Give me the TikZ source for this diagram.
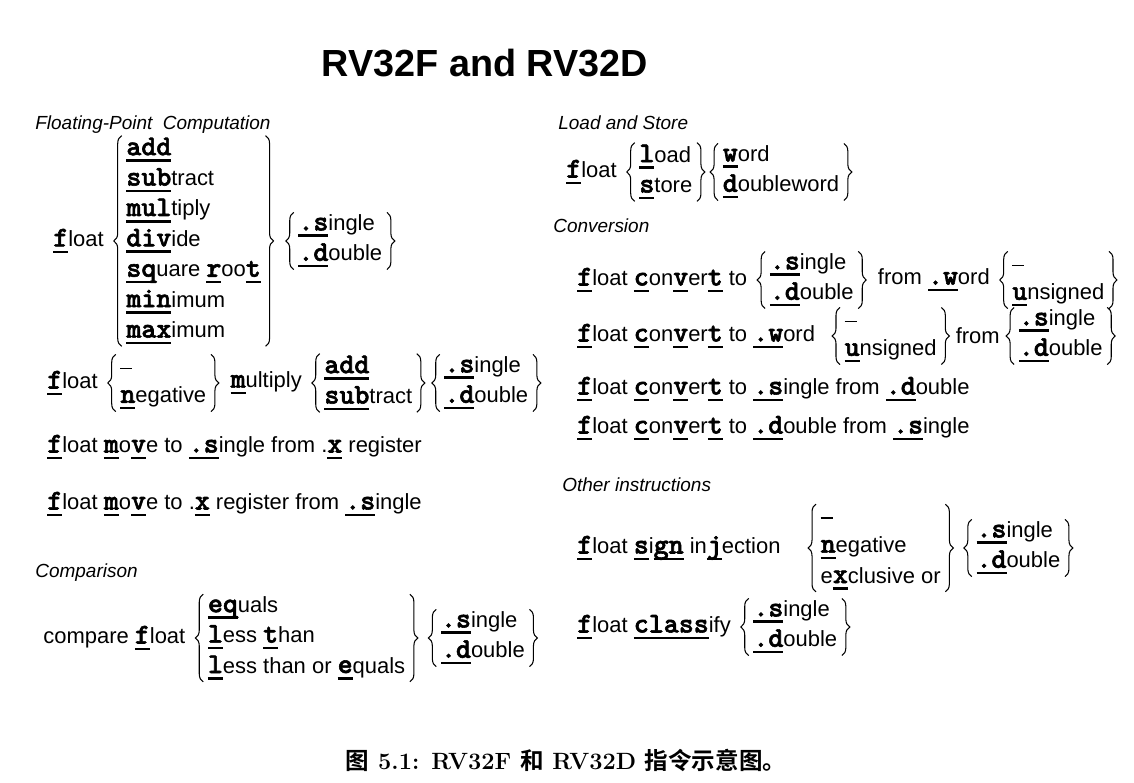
\documentclass[tikz,border=0pt]{standalone}
\usepackage{fontspec}
\setsansfont{Liberation Sans}
\newfontfamily\kwfont{lmmonolt10-bold.otf}[Scale=1.3, FakeBold=2]
\newfontfamily\cjkfont{Noto Sans CJK SC}[BoldFont={* Bold}]
\usetikzlibrary{positioning,decorations.pathreplacing}

% underlined opcode letters
\newcommand\kw[1]{{\leavevmode\setbox0\hbox{\kwfont #1}\rlap{\rule[-3.8pt]{\wd0}{1.5pt}}\box0}}
% empty choice
\newcommand\nokw{\leavevmode\vphantom{l}\rule[2pt]{6.8pt}{0.7pt}}

\begin{document}
\begin{tikzpicture}[x=0.02cm, y=-0.02cm,
  txt/.style={inner sep=0pt, font=\sffamily\fontsize{12.5pt}{17.3pt}\selectfont},
  grp/.style={txt, align=left, inner xsep=2.5pt, inner ysep=1pt},
  hdr/.style={inner sep=0pt, anchor=base west, font=\sffamily\itshape\fontsize{10.8pt}{13pt}\selectfont},
  brc/.style={decorate, decoration={brace, amplitude=4.5pt}, line width=0.6pt},
  node distance=10pt
]
\useasboundingbox (0,0) rectangle (1134,783);

\node[inner sep=0pt, font=\sffamily\bfseries\fontsize{21.5pt}{24pt}\selectfont] (title) at (485,63) {RV32F and RV32D};

% floating-point computation
\node[hdr] (hcomp) at (35,130) {Floating-Point\ \ Computation};
\node[txt, anchor=west] (fA) at (53,241) {\kw{f}loat};
\node[grp, right=of fA] (opsA) {\kw{add}\\ \kw{sub}tract\\ \kw{mul}tiply\\ \kw{div}ide\\ \kw{sq}uare \kw{r}oo\kw{t}\\ \kw{min}imum\\ \kw{max}imum};
\node[grp, right=16pt of opsA] (precA) {\kw{.s}ingle\\ \kw{.d}ouble};

\node[txt, anchor=west] (fB) at (47,383) {\kw{f}loat};
\node[grp, right=of fB] (negB) {\nokw\\ \kw{n}egative};
\node[txt, right=11pt of negB] (mulB) {\kw{m}ultiply};
\node[grp, right=of mulB] (opsB) {\kw{add}\\ \kw{sub}tract};
\node[grp, right=13pt of opsB] (precB) {\kw{.s}ingle\\ \kw{.d}ouble};

\node[txt, anchor=west] (mvC) at (47,447) {\kw{f}loat \kw{m}o\kw{v}e to \kw{.s}ingle from .\kw{x} register};
\node[txt, anchor=west] (mvD) at (47,504) {\kw{f}loat \kw{m}o\kw{v}e to .\kw{x} register from \kw{.s}ingle};

% comparison
\node[hdr] (hcmp) at (35,578) {Comparison};
\node[txt, anchor=west] (cmpE) at (43,638) {compare \kw{f}loat};
\node[grp, right=of cmpE] (relE) {\kw{eq}uals\\ \kw{l}ess \kw{t}han\\ \kw{l}ess than or \kw{e}quals};
\node[grp, right=15pt of relE] (precE) {\kw{.s}ingle\\ \kw{.d}ouble};

% load and store
\node[hdr] (hls) at (558,130) {Load and Store};
\node[txt, anchor=west] (fF) at (566,172) {\kw{f}loat};
\node[grp, right=of fF] (lsF) {\kw{l}oad\\ \kw{s}tore};
\node[grp, right=12pt of lsF] (szF) {\kw{w}ord\\ \kw{d}oubleword};

% conversion
\node[hdr] (hcvt) at (553,233) {Conversion};
\node[txt, anchor=west] (cG1) at (577,280) {\kw{f}loat \kw{c}on\kw{v}er\kw{t} to};
\node[grp, right=of cG1] (precG1) {\kw{.s}ingle\\ \kw{.d}ouble};
\node[txt, right=11pt of precG1] (wG1) {from \kw{.w}ord};
\node[grp, right=of wG1] (sgnG1) {\nokw\\ \kw{u}nsigned};

\node[txt, anchor=west] (cG2) at (577,336) {\kw{f}loat \kw{c}on\kw{v}er\kw{t} to \kw{.w}ord};
\node[grp, right=14pt of cG2] (sgnG2) {\nokw\\ \kw{u}nsigned};
\node[txt, right=8pt of sgnG2] (fromG2) {from};
\node[grp, right=8pt of fromG2] (precG2) {\kw{.s}ingle\\ \kw{.d}ouble};

\node[txt, anchor=west] (cG3) at (577,389) {\kw{f}loat \kw{c}on\kw{v}er\kw{t} to \kw{.s}ingle from \kw{.d}ouble};
\node[txt, anchor=west] (cG4) at (577,428) {\kw{f}loat \kw{c}on\kw{v}er\kw{t} to \kw{.d}ouble from \kw{.s}ingle};

% other instructions
\node[hdr] (hoth) at (562,492) {Other instructions};
\node[txt, anchor=west] (sH1) at (577,548) {\kw{f}loat \kw{s}i\kw{gn} in\kw{j}ection};
\node[grp, right=20pt of sH1] (opH1) {\nokw\\ \kw{n}egative\\ e\kw{x}clusive or};
\node[grp, right=15pt of opH1] (precH1) {\kw{.s}ingle\\ \kw{.d}ouble};

\node[txt, anchor=west] (cH2) at (577,627) {\kw{f}loat \kw{class}ify};
\node[grp, right=of cH2] (precH2) {\kw{.s}ingle\\ \kw{.d}ouble};

\foreach \g in {opsA,precA,negB,opsB,precB,relE,precE,lsF,szF,precG1,sgnG1,sgnG2,precG2,opH1,precH1,precH2} {
  \draw[brc] (\g.south west) -- (\g.north west);
  \draw[brc] (\g.north east) -- (\g.south east);
}

\node[inner sep=0pt, font=\rmfamily\bfseries\fontsize{13.4pt}{15pt}\selectfont] (cap) at (566,760) {{\cjkfont 图} 5.1: RV32F {\cjkfont 和} RV32D {\cjkfont 指令示意图。}};
\end{tikzpicture}
\end{document}
